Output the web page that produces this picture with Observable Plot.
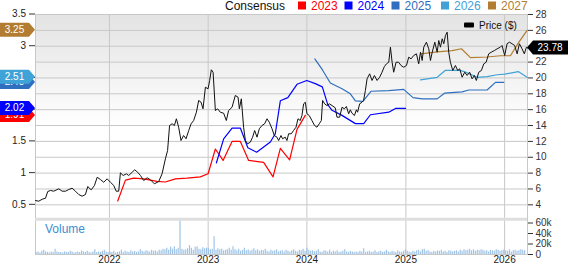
<!DOCTYPE html>
<html><head><meta charset="utf-8">
<script src="https://cdn.jsdelivr.net/npm/d3@7"></script>
<script src="https://cdn.jsdelivr.net/npm/@observablehq/plot@0.6"></script>
<style>
html,body{margin:0;padding:0;background:#fff;}
#chart{position:relative;width:568px;height:264px;overflow:hidden;font-family:"Liberation Sans",Arial,sans-serif;}
#chart svg{position:absolute;left:0;top:0;}
</style></head><body><div id="chart"></div>
<script>
// ---------- DATA ----------
// price ($): [decimal year, close]
const priceSeries = [[2021.251,4.54],[2021.284,4.46],[2021.319,4.71],[2021.352,4.83],[2021.375,5.68],[2021.403,5.81],[2021.436,5.72],[2021.487,6.02],[2021.521,5.72],[2021.555,5.72],[2021.588,5.93],[2021.622,6.10],[2021.656,5.72],[2021.689,5.30],[2021.723,5.09],[2021.757,5.30],[2021.780,6.31],[2021.815,5.89],[2021.848,6.44],[2021.876,7.48],[2021.909,7.19],[2021.942,6.85],[2021.977,7.28],[2022.010,6.85],[2022.044,6.44],[2022.068,5.72],[2022.094,5.72],[2022.111,8.04],[2022.139,7.70],[2022.172,7.91],[2022.195,7.70],[2022.230,8.11],[2022.256,8.42],[2022.286,8.11],[2022.314,7.70],[2022.347,7.07],[2022.382,7.41],[2022.415,7.16],[2022.455,6.65],[2022.499,6.94],[2022.533,7.91],[2022.567,9.80],[2022.589,10.85],[2022.609,14.00],[2022.635,14.22],[2022.658,14.00],[2022.678,14.85],[2022.701,13.79],[2022.725,12.11],[2022.751,12.74],[2022.776,12.33],[2022.803,13.37],[2022.827,14.22],[2022.853,14.63],[2022.881,15.68],[2022.904,17.16],[2022.928,16.94],[2022.948,16.11],[2022.972,18.83],[2022.999,18.63],[2023.015,19.68],[2023.032,21.03],[2023.050,20.72],[2023.073,15.89],[2023.096,16.11],[2023.123,15.68],[2023.157,15.55],[2023.184,14.63],[2023.207,15.89],[2023.242,16.31],[2023.275,17.79],[2023.303,17.57],[2023.316,16.11],[2023.336,17.37],[2023.359,13.79],[2023.377,12.11],[2023.400,11.70],[2023.427,11.90],[2023.450,12.53],[2023.471,13.37],[2023.495,12.53],[2023.518,13.59],[2023.545,14.00],[2023.572,14.22],[2023.596,14.85],[2023.619,14.42],[2023.647,13.59],[2023.670,12.74],[2023.697,12.53],[2023.714,12.11],[2023.738,12.74],[2023.754,12.33],[2023.781,12.53],[2023.798,12.11],[2023.815,12.96],[2023.842,12.96],[2023.865,13.37],[2023.890,13.79],[2023.910,14.85],[2023.933,14.63],[2023.950,15.26],[2023.967,16.74],[2023.984,16.94],[2024.001,15.48],[2024.024,15.26],[2024.051,14.63],[2024.078,14.00],[2024.102,13.79],[2024.125,14.22],[2024.146,14.63],[2024.159,17.16],[2024.179,16.74],[2024.203,16.52],[2024.227,16.74],[2024.254,16.52],[2024.287,16.23],[2024.304,15.05],[2024.331,15.05],[2024.355,16.31],[2024.378,16.11],[2024.399,16.40],[2024.422,15.48],[2024.439,15.98],[2024.456,15.55],[2024.480,15.26],[2024.500,15.98],[2024.512,15.68],[2024.533,16.74],[2024.557,16.94],[2024.573,17.16],[2024.591,18.42],[2024.608,19.89],[2024.634,20.52],[2024.658,19.68],[2024.682,20.31],[2024.709,19.68],[2024.735,20.09],[2024.759,20.72],[2024.783,21.44],[2024.804,21.78],[2024.827,21.98],[2024.844,23.88],[2024.861,21.98],[2024.877,20.72],[2024.901,21.98],[2024.927,21.98],[2024.951,21.57],[2024.978,21.35],[2025.006,21.57],[2025.029,22.62],[2025.053,22.41],[2025.079,22.83],[2025.107,23.04],[2025.130,21.78],[2025.148,23.25],[2025.165,22.20],[2025.181,23.88],[2025.208,24.51],[2025.232,23.67],[2025.249,22.20],[2025.267,23.25],[2025.293,24.51],[2025.317,23.25],[2025.333,24.72],[2025.350,23.88],[2025.368,24.94],[2025.384,24.31],[2025.401,25.35],[2025.418,25.77],[2025.434,23.25],[2025.451,21.98],[2025.475,20.94],[2025.502,21.57],[2025.525,20.94],[2025.545,21.15],[2025.570,20.09],[2025.596,20.72],[2025.620,20.31],[2025.646,20.72],[2025.671,19.89],[2025.694,20.31],[2025.714,19.68],[2025.738,20.72],[2025.765,20.94],[2025.789,21.78],[2025.813,21.98],[2025.839,23.04],[2025.866,23.25],[2025.897,23.46],[2025.924,23.67],[2025.957,23.88],[2025.974,24.09],[2026.001,22.83],[2026.025,24.31],[2026.049,24.51],[2026.076,24.31],[2026.102,24.09],[2026.127,23.04],[2026.150,24.31],[2026.177,23.67],[2026.200,23.04],[2026.221,23.88],[2026.232,23.78]];

// consensus EPS estimates: [decimal year, EPS]
const consensus2023 = [[2022.084,0.56],[2022.162,0.89],[2022.246,0.92],[2022.347,0.91],[2022.482,0.87],[2022.567,0.86],[2022.668,0.91],[2022.786,0.92],[2022.921,0.94],[2022.999,0.99],[2023.073,1.38],[2023.151,1.20],[2023.242,1.50],[2023.326,1.50],[2023.410,1.20],[2023.562,1.17],[2023.657,0.94],[2023.731,1.39],[2023.825,1.21],[2023.900,1.69],[2023.984,1.91]];
const consensus2024 = [[2023.083,1.16],[2023.157,1.54],[2023.242,1.71],[2023.326,1.71],[2023.402,1.40],[2023.491,1.33],[2023.630,1.49],[2023.680,1.62],[2023.731,2.14],[2023.807,2.19],[2023.900,2.40],[2023.999,2.46],[2024.085,2.41],[2024.156,2.36],[2024.211,2.08],[2024.254,1.99],[2024.355,1.91],[2024.490,1.78],[2024.574,1.78],[2024.642,1.92],[2024.827,1.96],[2024.895,2.02],[2024.996,2.02]];
const consensus2025 = [[2024.080,2.80],[2024.156,2.63],[2024.237,2.42],[2024.355,2.33],[2024.439,2.25],[2024.490,2.14],[2024.566,2.13],[2024.647,2.29],[2024.827,2.30],[2024.978,2.32],[2025.072,2.19],[2025.165,2.17],[2025.317,2.17],[2025.391,2.26],[2025.570,2.28],[2025.637,2.31],[2025.823,2.31],[2025.907,2.43],[2025.991,2.43]];
const consensus2026 = [[2025.148,2.47],[2025.317,2.51],[2025.401,2.62],[2025.543,2.62],[2025.593,2.60],[2025.722,2.51],[2025.823,2.52],[2025.924,2.55],[2026.001,2.56],[2026.138,2.60],[2026.228,2.51]];
const consensus2027 = [[2025.153,2.88],[2025.317,2.91],[2025.469,2.93],[2025.563,2.96],[2025.654,2.82],[2025.823,2.83],[2025.957,2.85],[2026.059,2.85],[2026.143,3.06],[2026.228,3.25]];

const seriesNames = ["2023","2024","2025","2026","2027"];
const seriesColors = ["#ff0000","#0000ff","#2f6fbf","#40a3d8","#b27d30"];
const seriesData = [consensus2023, consensus2024, consensus2025, consensus2026, consensus2027];

// weekly volume (thousands of shares), first week starting 2021-04-05
const volumeStart = "2021-04-05";
const volumeK = [4,5,3,6,8,5,4,3,5,4,10,5,4,
 4,3,5,4,4,6,5,3,4,5,4,7,5,4,6,4,3,5,9,4,5,4,6,8,5,4,
 5,4,6,3,4,5,8,4,6,5,4,7,5,6,4,5,9,6,5,7,6,5,8,6,7,5,
 8,7,10,9,12,8,14,10,15,9,12,64,10,8,9,11,17,12,8,14,15,10,9,13,11,12,
 12,9,10,34,8,11,9,10,7,8,9,12,8,15,9,7,10,6,8,12,7,9,6,8,11,7,
 9,6,8,7,10,6,5,8,6,7,9,5,6,7,5,8,6,5,7,9,6,5,8,7,10,6,
 12,8,6,7,5,6,9,5,4,7,6,5,8,4,6,5,7,4,5,6,9,5,4,6,5,4,
 5,4,6,5,11,4,5,6,4,5,7,4,5,6,4,5,8,5,4,6,5,4,7,5,4,6,
 9,6,5,4,6,5,7,8,5,9,10,6,7,5,4,6,5,7,6,8,5,6,4,7,6,5,
 6,7,5,8,6,9,7,8,10,7,9,6,8,7,9,8,6,7,5,8,7,6,9,8,6,7,
 8,7,6,9,5,7,8,6,7,9,8,7];

const yearTicks = [2022,2023,2024,2025,2026];
const priceTicks = [4,6,8,10,12,14,16,18,20,22,24,26,28];
// EPS axis: labels covered by the value badges are left blank (as in the reference)
const epsTicks = [0.5,1,1.5,2,2.5,3,3.5];
const epsTickLabels = ["0.5","1","1.5","","","3","3.5"];
const volumeTicks = [0,20,40,60];
const volumeTickLabels = ["0","20k","40k","60k"];
const lastPrice = 23.78;

// ---------- HELPERS ----------
const yr = t => { const y = Math.floor(t); const a = Date.UTC(y,0,1), b = Date.UTC(y+1,0,1); return new Date(a + (t - y) * (b - a)); };
const W = 568, H = 264, ML = 35, MR = 41, MT = 14, MB = 10;
const xDomain = [yr(2021.251), yr(2026.232)];
const FONT = "'Liberation Sans', Arial, sans-serif";
const price = priceSeries.map(([t, p]) => ({date: yr(t), p}));
const vol = volumeK.map((v, i) => ({date: d3.utcWeek.offset(new Date(volumeStart), i), v}));
const cons = seriesData.flatMap((arr, i) => arr.map(([t, e]) => ({date: yr(t), eps: e, s: seriesNames[i]})));

// ---------- VOLUME / BACKGROUND LAYER ----------
const volPlot = Plot.plot({
  width: W, height: H, marginLeft: ML, marginRight: MR, marginTop: MT, marginBottom: MB,
  style: {background: "transparent", fontFamily: FONT, fontSize: "10px", color: "#333"},
  x: {type: "utc", domain: xDomain, axis: null},
  y: {domain: [0, 60], range: [254, 222.5], axis: "right", ticks: volumeTicks,
      tickFormat: d => volumeTickLabels[volumeTicks.indexOf(d)], tickSize: 5, tickPadding: 3, label: null},
  marks: [
    Plot.frame({stroke: "#c8c8c8"}),
    Plot.ruleX(yearTicks.map(yr), {stroke: "#c8c8c8"}),
    Plot.ruleX(vol, {x: "date", y1: 0, y2: "v", stroke: "#9fc4e7", strokeWidth: 1.2}),
    Plot.text(yearTicks, {x: d => yr(d), frameAnchor: "bottom", dy: 8, text: d => String(d), fill: "#222", fontSize: 10})
  ]
});

// ---------- PRICE LAYER ----------
const pricePlot = Plot.plot({
  width: W, height: H, marginLeft: ML, marginRight: MR, marginTop: MT, marginBottom: MB,
  style: {background: "transparent", fontFamily: FONT, fontSize: "10px", color: "#333"},
  x: {type: "utc", domain: xDomain, axis: null},
  y: {domain: [2, 28], range: [220.2, 14], axis: "right", ticks: priceTicks, tickSize: 5, tickPadding: 3, label: null,
      tickFormat: d => (Math.abs(d - lastPrice) < 1 ? "" : String(d))},
  color: {domain: seriesNames, range: seriesColors},
  marks: [
    Plot.ruleY(priceTicks, {stroke: "#c8c8c8"}),
    Plot.ruleY([2], {stroke: "#dedede", strokeWidth: 3, dy: -1.5}),
    Plot.line(cons, {x: "date", y: d => d.eps * 8, z: "s", stroke: "s", strokeWidth: 1.2}),
    Plot.line(price, {x: "date", y: "p", stroke: "#111", strokeWidth: 1})
  ]
});

const chart = document.getElementById("chart");
chart.appendChild(volPlot);
chart.appendChild(pricePlot);

// gradient background under everything (volume layer)
const xs = pricePlot.scale("x"), ys = pricePlot.scale("y");
const vsel = d3.select(volPlot);
const defs = vsel.insert("defs", ":first-child");
const g = defs.append("linearGradient").attr("id", "bgGrad").attr("x1", 0).attr("y1", 0).attr("x2", 0).attr("y2", 1);
g.append("stop").attr("offset", "0%").attr("stop-color", "#e3e3e3");
g.append("stop").attr("offset", "55%").attr("stop-color", "#ffffff");
g.append("stop").attr("offset", "100%").attr("stop-color", "#ffffff");
const [x0, x1] = xs.range;
vsel.insert("rect", "defs + *").attr("x", x0).attr("y", ys.apply(28)).attr("width", x1 - x0).attr("height", ys.apply(2) - ys.apply(28)).attr("fill", "url(#bgGrad)");

const psel = d3.select(pricePlot);
// left EPS axis
const la = psel.append("g").attr("font-family", FONT).attr("font-size", 10);
epsTicks.forEach((e, i) => {
  const y = ys.apply(e * 8);
  la.append("line").attr("x1", x0 - 6).attr("x2", x0).attr("y1", y).attr("y2", y).attr("stroke", "#333");
  if (epsTickLabels[i]) la.append("text").attr("x", x0 - 9).attr("y", y).attr("dy", "0.32em").attr("text-anchor", "end").attr("fill", "#222").text(epsTickLabels[i]);
});
// left badges (latest consensus values)
seriesData.forEach((arr, i) => {
  const v = arr[arr.length - 1][1];
  const y = ys.apply(v * 8);
  la.append("path").attr("d", `M0,${y-7}H${x0-6}L${x0},${y}L${x0-6},${y+7}H0Z`).attr("fill", seriesColors[i]);
  la.append("text").attr("x", 14.5).attr("y", y).attr("dy", "0.35em").attr("text-anchor", "middle").attr("fill", "#fff").text(v.toFixed(2));
});
// right price badge
{
  const y = ys.apply(lastPrice);
  la.append("path").attr("d", `M${x1},${y}L${x1+6},${y-7}H${W}V${y+7}H${x1+6}Z`).attr("fill", "#000");
  la.append("text").attr("x", 550).attr("y", y).attr("dy", "0.35em").attr("text-anchor", "middle").attr("fill", "#fff").text(lastPrice.toFixed(2));
}
// top legend
const lg = psel.append("g").attr("font-family", FONT).attr("font-size", 12).attr("text-anchor", "start");
lg.append("text").attr("x", 225).attr("y", 10).attr("text-anchor", "start").attr("fill", "#111").text("Consensus");
const legendX = [298, 344.5, 391.5, 441, 488];
seriesNames.forEach((s, i) => {
  lg.append("rect").attr("x", legendX[i]).attr("y", 1.5).attr("width", 8).attr("height", 8).attr("fill", seriesColors[i]);
  lg.append("text").attr("x", legendX[i] + 13).attr("y", 10).attr("text-anchor", "start").attr("fill", seriesColors[i]).text(s);
});
// price legend inside plot
lg.append("rect").attr("x", 464).attr("y", 22.5).attr("width", 10).attr("height", 5).attr("rx", 1).attr("fill", "#000");
lg.append("text").attr("x", 479).attr("y", 28.5).attr("font-size", 10).attr("text-anchor", "start").attr("fill", "#111").text("Price ($)");
// volume label
lg.append("text").attr("x", 45).attr("y", 233).attr("text-anchor", "start").attr("fill", "#3b8fd4").text("Volume");
</script>
</body></html>
